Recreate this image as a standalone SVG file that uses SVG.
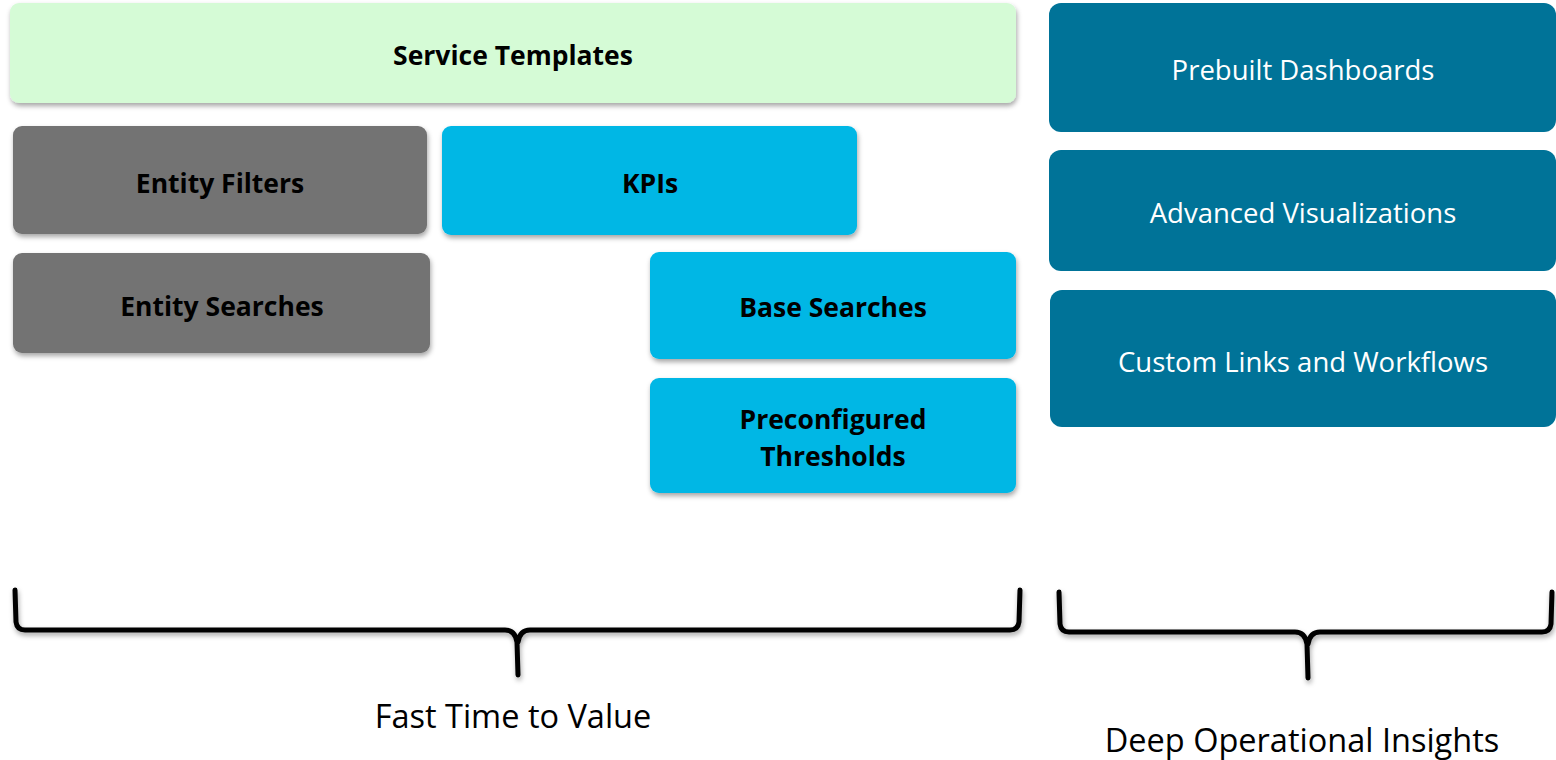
<svg xmlns="http://www.w3.org/2000/svg" width="1556" height="760" viewBox="0 0 1556 760">
<style>
.b{font-family:"Open Sans","Liberation Sans",sans-serif;font-weight:bold;font-size:26.5px;fill:#000;text-anchor:middle}
.w{font-family:"Open Sans","Liberation Sans",sans-serif;font-size:27.5px;fill:#fff;text-anchor:middle}
.l{font-family:"Open Sans","Liberation Sans",sans-serif;font-size:32.5px;fill:#000;text-anchor:middle}
.green{fill:#d5fbd6}
.gray{fill:#737373}
.cyan{fill:#00b7e5}
.teal{fill:#007398}
.brace{fill:none;stroke:#000;stroke-width:5;stroke-linejoin:round;stroke-linecap:round}
</style>
<defs>
<filter id="sh" x="-5%" y="-10%" width="110%" height="130%">
<feDropShadow dx="1" dy="3" stdDeviation="2.5" flood-color="#000" flood-opacity="0.35"/>
</filter>
</defs>
<rect width="1556" height="760" fill="#fff"/>
<g id="service-templates"><rect class="green" x="10" y="3" width="1006" height="100" rx="9" filter="url(#sh)"/><text class="b" x="513" y="65">Service Templates</text></g>
<g id="entity-filters"><rect class="gray" x="13" y="126" width="414" height="108" rx="9" filter="url(#sh)"/><text class="b" x="220" y="193">Entity Filters</text></g>
<g id="kpis"><rect class="cyan" x="442" y="126" width="415" height="109" rx="9" filter="url(#sh)"/><text class="b" x="650" y="193">KPIs</text></g>
<g id="entity-searches"><rect class="gray" x="13" y="253" width="417" height="100" rx="9" filter="url(#sh)"/><text class="b" x="222" y="316">Entity Searches</text></g>
<g id="base-searches"><rect class="cyan" x="650" y="252" width="366" height="107" rx="9" filter="url(#sh)"/><text class="b" x="833" y="317">Base Searches</text></g>
<g id="preconfigured-thresholds"><rect class="cyan" x="650" y="378" width="366" height="115" rx="9" filter="url(#sh)"/><text class="b" x="833" y="429">Preconfigured</text><text class="b" x="833" y="466">Thresholds</text></g>
<g id="prebuilt-dashboards"><rect class="teal" x="1049" y="3" width="507" height="129" rx="12"/><text class="w" x="1303" y="80">Prebuilt Dashboards</text></g>
<g id="advanced-visualizations"><rect class="teal" x="1049" y="150" width="507" height="121" rx="12"/><text class="w" x="1303" y="223">Advanced Visualizations</text></g>
<g id="custom-links"><rect class="teal" x="1050" y="290" width="506" height="137" rx="12"/><text class="w" x="1303" y="372">Custom Links and Workflows</text></g>
<g id="connectors">
<path class="brace" d="M15 590 L16 622 Q17 630 25 630 L505 630 Q515 630 517 642 L518 675 M1020 590 L1019 622 Q1018 630 1010 630 L530 630 Q520 630 518 642" filter="url(#sh)"/>
<path class="brace" d="M1059 592 L1060 624 Q1061 632 1069 632 L1295 632 Q1305 632 1307 644 L1308 678 M1552 592 L1551 624 Q1550 632 1542 632 L1320 632 Q1310 632 1308 644" filter="url(#sh)"/>
</g>
<text class="l" x="513" y="728">Fast Time to Value</text>
<text class="l" x="1302" y="752">Deep Operational Insights</text>
</svg>
